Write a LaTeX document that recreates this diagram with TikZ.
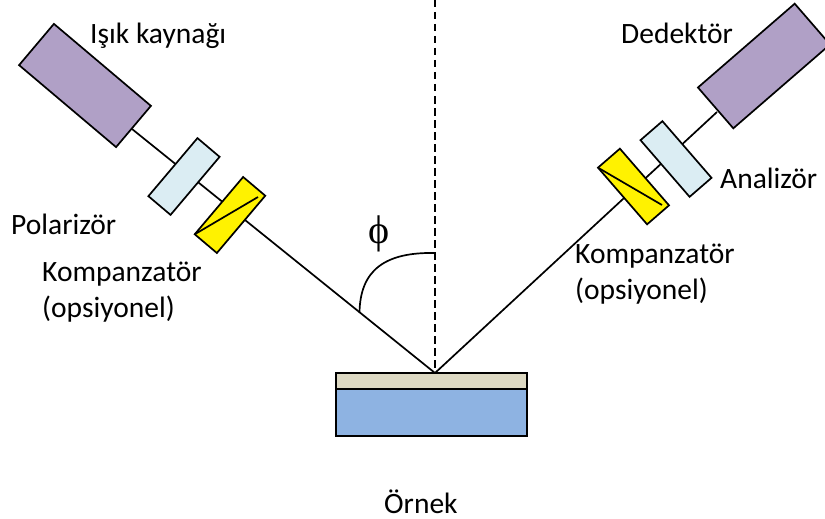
\documentclass[tikz,border=0pt]{standalone}
\usepackage{fontspec}
\setmainfont{Carlito}
\newfontfamily\phifont{Liberation Serif}
\definecolor{purp}{HTML}{B0A0C6}
\definecolor{pale}{HTML}{DBEDF3}
\definecolor{film}{HTML}{DDD9C3}
\definecolor{subs}{HTML}{8EB3E2}
\tikzset{
  px/.style={x=1pt,y=-1pt},
  part/.style={draw=black,line width=1.7pt,inner sep=0pt,outer sep=0pt,rectangle},
  label/.style={inner sep=0pt,font=\fontsize{29.5}{36}\selectfont,anchor=base west,align=left},
  ray/.style={line width=1.7pt}
}
\begin{document}
\begin{tikzpicture}[px]
\useasboundingbox (0,0) rectangle (825,519);
\clip (0,0) rectangle (825,519);
% beam ends
\coordinate (hit) at (435,373);
\coordinate (srcout) at (132,129);
\coordinate (detout) at (717,112);
\coordinate (top) at (435,0);
\coordinate (arcA) at (435,253);
\coordinate (arcB) at (359.5,313);
\coordinate (diagL) at (258,197);
\coordinate (diagR) at (662,205);
\draw[ray] (srcout) -- (hit);
\draw[ray] (detout) -- (hit);
\draw[ray,dash pattern=on 7.5pt off 4.5pt] (top) -- (hit);
\draw[ray] (arcA) .. controls (385,252) and (360,270) .. (arcB);
% left arm
\node[part,fill=purp,minimum width=127pt,minimum height=54pt,rotate=-40.2] (src) at (85,85.5) {};
\node[part,fill=pale,minimum width=76pt,minimum height=29pt,rotate=-40.2+90] (pol) at (184,176.5) {};
\node[part,fill=yellow,minimum width=75pt,minimum height=29pt,rotate=-40.2+90] (compL) at (230,215) {};
\draw[ray] (compL.north west) -- (diagL);
% right arm
\node[part,fill=purp,minimum width=128pt,minimum height=54pt,rotate=40.9] (det) at (764,66) {};
\node[part,fill=pale,minimum width=75pt,minimum height=29pt,rotate=40.9-90] (ana) at (676,159) {};
\node[part,fill=yellow,minimum width=75pt,minimum height=29pt,rotate=40.9-90] (compR) at (633.5,186.5) {};
\draw[ray] (compR.south west) -- (diagR);
% sample
\node[part,fill=film,minimum width=191pt,minimum height=16pt] (film) at (431.5,381) {};
\node[part,fill=subs,minimum width=191pt,minimum height=47pt] (sub) at (431.5,412.5) {};
% labels
\node[label] (l1) at (90,44) {Işık kaynağı};
\node[label] (l2) at (621,44) {Dedektör};
\node[label] (l3) at (720,188) {Analizör};
\node[label] (l4) at (11,234) {Polarizör};
\node[label] (l5) at (42,317) {Kompanzatör\\(opsiyonel)};
\node[label] (l6) at (575,299) {Kompanzatör\\(opsiyonel)};
\node[label] (l7) at (384,513) {Örnek};
\node[label,font=\fontsize{40}{40}\selectfont\phifont] (phi) at (368,243) {ϕ};
\end{tikzpicture}
\end{document}
